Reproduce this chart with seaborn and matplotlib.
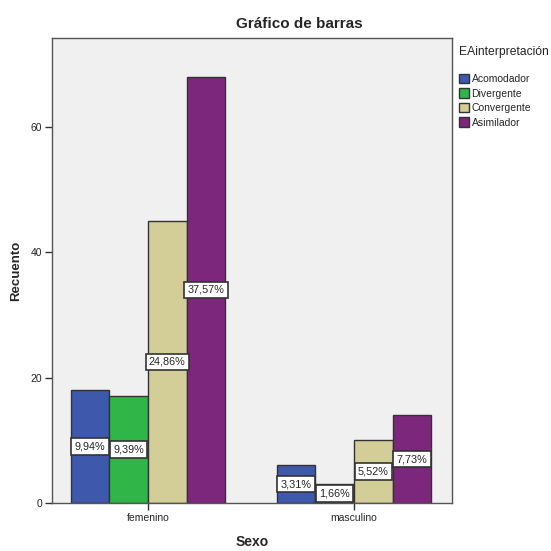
import pandas as pd
import matplotlib
matplotlib.use("Agg")
import matplotlib.pyplot as plt
import seaborn as sns

# Data
sexo = ["femenino", "masculino"]
estilos = ["Acomodador", "Divergente", "Convergente", "Asimilador"]
recuento_femenino = [18, 17, 45, 68]
recuento_masculino = [6, 3, 10, 14]
colores = ["#3e58ac", "#30b648", "#d3ce97", "#7c277b"]

df = pd.DataFrame({
    "Sexo": [s for s in sexo for _ in estilos],
    "EAinterpretación": estilos * len(sexo),
    "Recuento": recuento_femenino + recuento_masculino,
})
total = df["Recuento"].sum()

sns.set_style("white")
plt.rcParams["font.family"] = ["Liberation Sans", "DejaVu Sans"]

fig = plt.figure(figsize=(5.51, 5.51), dpi=100)
ax = fig.add_axes([52 / 551, 48 / 551, 400 / 551, 465 / 551])
ax.set_facecolor("#f0f0f0")

sns.barplot(data=df, x="Sexo", y="Recuento", hue="EAinterpretación",
            hue_order=estilos, palette=colores, width=0.75,
            edgecolor="#333333", linewidth=1.0, saturation=1, ax=ax)

# percentage labels centred in each bar
for cont in ax.containers:
    for bar in cont:
        h = bar.get_height()
        ax.text(bar.get_x() + bar.get_width() / 2, h / 2,
                f"{h / total * 100:.2f}%".replace(".", ","),
                ha="center", va="center", fontsize=7.8,
                bbox=dict(boxstyle="square,pad=0.3", fc="white",
                          ec="#333333", lw=1.2))

ax.set_xlim(-0.466, 1.476)
ax.set_ylim(0, 74.2)
ax.set_yticks([0, 20, 40, 60])
ax.tick_params(axis="both", direction="out", length=5, width=1,
               color="#333333", labelsize=7.5, left=True, bottom=True, pad=2)
for sp in ax.spines.values():
    sp.set_color("#555555")
    sp.set_linewidth(1.0)

fig.suptitle("Gráfico de barras", x=299 / 551, y=1 - 24 / 551, va="center",
             fontsize=11, fontweight="bold")
ax.set_xlabel("Sexo", fontsize=10, fontweight="bold", labelpad=9)
ax.set_ylabel("Recuento", fontsize=9.5, fontweight="bold", labelpad=6)

leg = ax.legend(title="EAinterpretación", loc="upper left",
                bbox_to_anchor=(1.0175, 0.982), frameon=False,
                prop={"size": 7.5}, title_fontsize=8.7,
                handlelength=1.0, handleheight=1.05,
                handletextpad=0.2, labelspacing=0.4, borderaxespad=0,
                borderpad=0)
leg._legend_box.align = "left"
leg._legend_box.sep = 11
for hnd in leg.legend_handles:
    hnd.set_edgecolor("#333333")

fig.savefig("out.png", dpi=100, facecolor="white")
